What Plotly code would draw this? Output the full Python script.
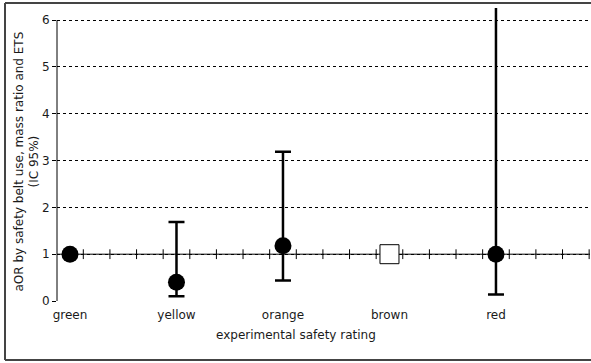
import numpy as np
import plotly.graph_objects as go

categories = ["green", "yellow", "orange", "brown", "red"]
aor_values = [1.0, 0.40, 1.18, 1.0, 1.0]
ci_lower = [None, 0.10, 0.44, None, 0.14]
ci_upper = [None, 1.69, 3.19, None, 6.9]
reference_flags = [False, False, False, True, False]
y_ticks = [0, 1, 2, 3, 4, 5, 6]

W, H = 591, 363
ML, MR, MT, MB = 57, 1, 8, 62
PW, PH = W - ML - MR, H - MT - MB

x_range = [-0.122, 4.883]
y_range = [0, 6.26]

FONT = "DejaVu Sans"
TXT = "#1a1a1a"

xi = list(range(len(categories)))

def px_x(px):
    return (px - ML) / PW

def px_y(py):
    return (H - MB - py) / PH

fig = go.Figure()

# minor ticks along the reference line y=1
tick_x = np.arange(x_range[0] - 0.003 + 0.25, x_range[1], 0.25)
tick_x = tick_x[tick_x > x_range[0] + 0.01]
fig.add_trace(go.Scatter(
    x=tick_x, y=[1] * len(tick_x), mode="markers",
    marker=dict(symbol="line-ns", size=7, line=dict(width=1, color="black")),
    hoverinfo="skip", showlegend=False, cliponaxis=False,
))

# estimates with confidence interval
ex = [xi[i] for i in xi if ci_lower[i] is not None]
ey = [aor_values[i] for i in xi if ci_lower[i] is not None]
eup = [ci_upper[i] - aor_values[i] for i in xi if ci_lower[i] is not None]
edn = [aor_values[i] - ci_lower[i] for i in xi if ci_lower[i] is not None]
fig.add_trace(go.Scatter(
    x=ex, y=ey, mode="markers",
    marker=dict(symbol="circle", size=17, color="black"),
    error_y=dict(type="data", array=eup, arrayminus=edn, symmetric=False,
                 color="black", thickness=2.5, width=8),
    showlegend=False, cliponaxis=True,
))

# estimates without interval (not reference)
px_ = [xi[i] for i in xi if ci_lower[i] is None and not reference_flags[i]]
py_ = [aor_values[i] for i in xi if ci_lower[i] is None and not reference_flags[i]]
fig.add_trace(go.Scatter(
    x=px_, y=py_, mode="markers",
    marker=dict(symbol="circle", size=17, color="black"),
    showlegend=False, cliponaxis=False,
))

# reference category
rx = [xi[i] for i in xi if reference_flags[i]]
ry = [aor_values[i] for i in xi if reference_flags[i]]
fig.add_trace(go.Scatter(
    x=rx, y=ry, mode="markers",
    marker=dict(symbol="square", size=19, color="white",
                line=dict(width=1, color="black")),
    showlegend=False, cliponaxis=False,
))

shapes = [
    dict(type="line", xref="paper", yref="y", x0=0, x1=1, y0=1, y1=1,
         line=dict(color="black", width=1), layer="below"),
    dict(type="line", xref="paper", yref="y", x0=0, x1=0, y0=0, y1=y_ticks[-1],
         line=dict(color="black", width=1), layer="below"),
    # outer frame: left, top, bottom edges
    dict(type="line", xref="paper", yref="paper",
         x0=px_x(5), x1=px_x(5), y0=px_y(360), y1=px_y(3),
         line=dict(color="#444444", width=2), layer="below"),
    dict(type="line", xref="paper", yref="paper",
         x0=px_x(5), x1=px_x(W), y0=px_y(3), y1=px_y(3),
         line=dict(color="#444444", width=2), layer="below"),
    dict(type="line", xref="paper", yref="paper",
         x0=px_x(5), x1=px_x(W), y0=px_y(360), y1=px_y(360),
         line=dict(color="#444444", width=2), layer="below"),
]

annotations = [
    dict(text="experimental safety rating", xref="paper", yref="paper",
         x=px_x(W / 2), y=px_y(335), xanchor="center", yanchor="middle",
         showarrow=False, font=dict(family=FONT, size=12, color=TXT)),
    dict(text="aOR by safety belt use, mass ratio and ETS<br>(IC 95%)",
         xref="paper", yref="paper", x=px_x(26.5), y=px_y(162),
         xanchor="center", yanchor="middle", textangle=-90, showarrow=False,
         font=dict(family=FONT, size=12, color=TXT)),
]

fig.update_layout(
    width=W, height=H,
    margin=dict(l=ML, r=MR, t=MT, b=MB, pad=0),
    paper_bgcolor="white", plot_bgcolor="white",
    font=dict(family=FONT, size=12, color=TXT),
    showlegend=False,
    shapes=shapes,
    annotations=annotations,
    xaxis=dict(
        range=x_range, tickmode="array", tickvals=xi, ticktext=categories,
        showgrid=False, zeroline=False, showline=False,
        ticks="outside", ticklen=3, tickcolor="rgba(0,0,0,0)",
        tickfont=dict(family=FONT, size=12, color=TXT), fixedrange=True,
    ),
    yaxis=dict(
        range=y_range, tickmode="array", tickvals=y_ticks,
        showgrid=True, gridcolor="black", gridwidth=1, griddash="dot",
        zeroline=False, showline=False,
        ticks="outside", ticklen=4, tickcolor="black", tickwidth=1,
        tickfont=dict(family=FONT, size=12, color=TXT), fixedrange=True,
    ),
)

fig.write_html("out.html", config={"displayModeBar": False},
               post_script="document.body.style.margin='0';")
